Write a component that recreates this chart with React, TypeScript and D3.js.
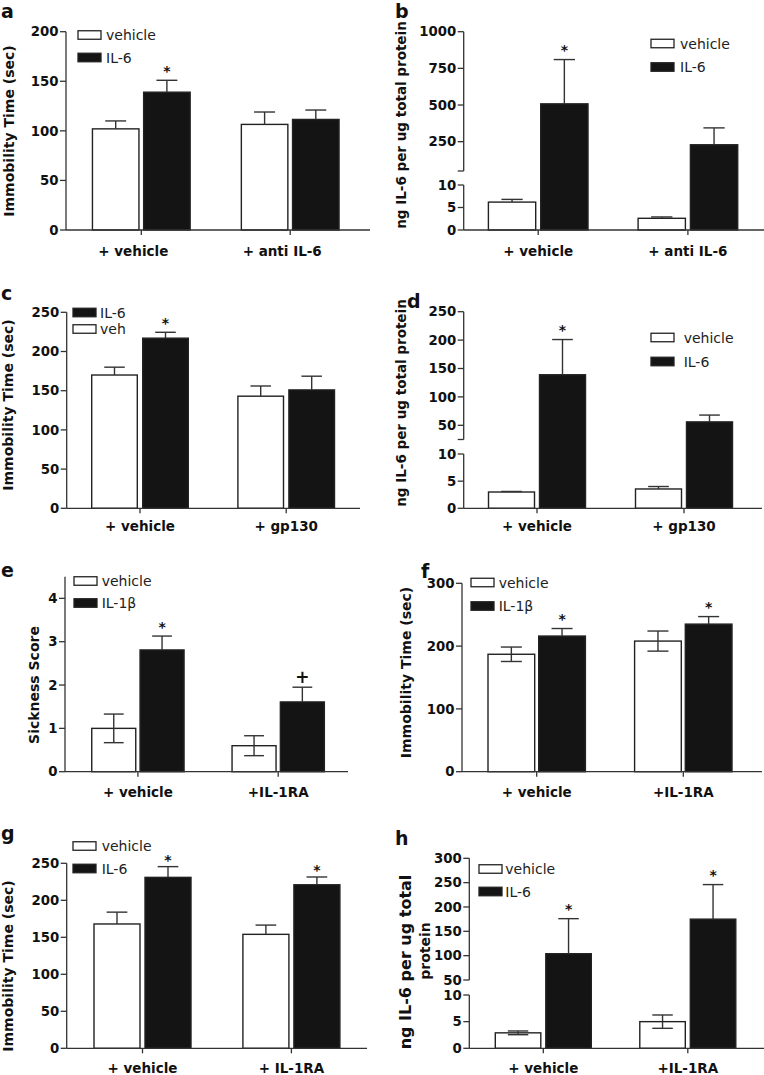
import React from "react";
import * as d3 from "d3";

// ---------- DATA ----------
// Panel a
const groupsA = ["+ vehicle", "+ anti IL-6"];
const vehA = [102, 106.5];
const vehErrA = [8, 12.5];
const il6A = [139, 111.5];
const il6ErrA = [12, 9.5];
const marksA = ["*", ""];
const ticksA = [0, 50, 100, 150, 200];

// Panel b
const groupsB = ["+ vehicle", "+ anti IL-6"];
const vehB = [6.2, 2.6];
const vehErrB = [0.6, 0.3];
const il6B = [508, 229];
const il6ErrB = [302, 115];
const marksB = ["*", ""];
const ticksBLow = [0, 5, 10];
const ticksBHigh = [250, 500, 750, 1000];

// Panel c
const groupsC = ["+ vehicle", "+ gp130"];
const vehC = [170, 143];
const vehErrC = [10, 13];
const il6C = [217, 151];
const il6ErrC = [7.5, 17.5];
const marksC = ["*", ""];
const ticksC = [0, 50, 100, 150, 200, 250];

// Panel d
const groupsD = ["+ vehicle", "+ gp130"];
const vehD = [3.0, 3.56];
const vehErrD = [0.1, 0.45];
const il6D = [139, 56];
const il6ErrD = [62, 12];
const marksD = ["*", ""];
const ticksDLow = [0, 5, 10];
const ticksDHigh = [50, 100, 150, 200, 250];

// Panel e
const groupsE = ["+ vehicle", "+IL-1RA"];
const vehE = [1.0, 0.6];
const vehErrE = [0.33, 0.23];
const il1bE = [2.81, 1.61];
const il1bErrE = [0.32, 0.34];
const marksE = ["*", "+"];
const ticksE = [0, 1, 2, 3, 4];

// Panel f
const groupsF = ["+ vehicle", "+IL-1RA"];
const vehF = [187, 208];
const vehErrF = [11.5, 16];
const il1bF = [216, 235];
const il1bErrF = [12, 12];
const marksF = ["*", "*"];
const ticksF = [0, 100, 200, 300];

// Panel g
const groupsG = ["+ vehicle", "+ IL-1RA"];
const vehG = [168, 154];
const vehErrG = [16, 12.5];
const il6G = [231, 221];
const il6ErrG = [14.5, 10.5];
const marksG = ["*", "*"];
const ticksG = [0, 50, 100, 150, 200, 250];

// Panel h
const groupsH = ["+ vehicle", "+IL-1RA"];
const vehH = [2.9, 5.0];
const vehErrH = [0.35, 1.25];
const il6H = [104, 175];
const il6ErrH = [72, 71];
const marksH = ["*", "*"];
const ticksHLow = [0, 5, 10];
const ticksHHigh = [50, 100, 150, 200, 250, 300];

const legendIL6 = ["vehicle", "IL-6"];
const legendC = ["IL-6", "veh"];
const legendIL1 = ["vehicle", "IL-1\u03b2"];

// ---------- STYLE / LAYOUT ----------
const FONT = "'DejaVu Sans', Verdana, sans-serif";
const AX = "#333";
const BLACK = "#141414";

type Layout = any;

const panels: Layout[] = [
  {
    letter: "a", letterX: 1, letterY: 18,
    groups: groupsA, veh: vehA, vehErr: vehErrA, trt: il6A, trtErr: il6ErrA, marks: marksA,
    axisX: 66, xEnd: 370, centers: [141.3, 290.2], barW: 46.5, gap: 4.7, labelDx: -8, labelY: 256,
    yLow: { domain: [0, 200], range: [230, 31.7] }, ticksLow: ticksA,
    legend: legendIL6, legendFills: ["#fff", BLACK], legX: 78, legY: [35, 57.5], legTextX: 106,
    title: [{ text: "Immobility Time (sec)", x: 14, y: 131, size: 14 }],
  },
  {
    letter: "b", letterX: 395, letterY: 18,
    groups: groupsB, veh: vehB, vehErr: vehErrB, trt: il6B, trtErr: il6ErrB, marks: marksB,
    axisX: 463.7, xEnd: 764, centers: [538.2, 687.9], barW: 47.3, gap: 5, labelDx: 0, labelY: 256,
    yLow: { domain: [0, 10], range: [230, 185] }, ticksLow: ticksBLow,
    yHigh: { domain: [50, 1000], range: [171, 31.7] }, ticksHigh: ticksBHigh,
    legend: legendIL6, legendFills: ["#fff", BLACK], legX: 651, legY: [43.5, 67], legTextX: 680,
    title: [{ text: "ng IL-6 per ug total protein", x: 406, y: 125, size: 13.5 }],
  },
  {
    letter: "c", letterX: 1, letterY: 300,
    groups: groupsC, veh: vehC, vehErr: vehErrC, trt: il6C, trtErr: il6ErrC, marks: marksC,
    axisX: 66.7, xEnd: 360, centers: [140, 286.2], barW: 45.6, gap: 5.4, labelDx: 0, labelY: 531,
    yLow: { domain: [0, 250], range: [508.3, 312.3] }, ticksLow: ticksC,
    legend: legendC, legendFills: [BLACK, "#fff"], legX: 73, legY: [312.5, 329], legTextX: 100,
    title: [{ text: "Immobility Time (sec)", x: 13, y: 405, size: 14 }],
  },
  {
    letter: "d", letterX: 407, letterY: 308,
    groups: groupsD, veh: vehD, vehErr: vehErrD, trt: il6D, trtErr: il6ErrD, marks: marksD,
    axisX: 463.7, xEnd: 762, centers: [537, 684], barW: 46, gap: 5, labelDx: 0, labelY: 531,
    yLow: { domain: [0, 10], range: [508.3, 454] }, ticksLow: ticksDLow,
    yHigh: { domain: [25, 250], range: [439.5, 311.7] }, ticksHigh: ticksDHigh,
    legend: legendIL6, legendFills: ["#fff", BLACK], legX: 651, legY: [337.5, 361.5], legTextX: 683.7,
    title: [{ text: "ng IL-6 per ug total protein", x: 406, y: 403, size: 13.5 }],
  },
  {
    letter: "e", letterX: 1, letterY: 577,
    groups: groupsE, veh: vehE, vehErr: vehErrE, trt: il1bE, trtErr: il1bErrE, marks: marksE,
    twoSided: true,
    axisX: 65, xEnd: 348, centers: [137.9, 278.2], barW: 44, gap: 4.3, labelDx: 0, labelY: 796.7,
    yLow: { domain: [0, 4.5], range: [771.7, 576.7] }, ticksLow: ticksE,
    legend: legendIL1, legendFills: ["#fff", BLACK], legX: 74, legY: [581, 603], legTextX: 101.7,
    title: [{ text: "Sickness Score", x: 39, y: 685, size: 14 }],
  },
  {
    letter: "f", letterX: 421, letterY: 578,
    groups: groupsF, veh: vehF, vehErr: vehErrF, trt: il1bF, trtErr: il1bErrF, marks: marksF,
    twoSided: true,
    axisX: 462, xEnd: 762, centers: [536.7, 683.3], barW: 46.7, gap: 4, labelDx: 0, labelY: 796.7,
    yLow: { domain: [0, 300], range: [771.7, 583.3] }, ticksLow: ticksF,
    legend: legendIL1, legendFills: ["#fff", BLACK], legX: 471, legY: [582.5, 606], legTextX: 498.7,
    title: [{ text: "Immobility Time (sec)", x: 411, y: 672.5, size: 14 }],
  },
  {
    letter: "g", letterX: 1, letterY: 840,
    groups: groupsG, veh: vehG, vehErr: vehErrG, trt: il6G, trtErr: il6ErrG, marks: marksG,
    markGap: 2,
    axisX: 66.7, xEnd: 367, centers: [142.5, 291.4], barW: 46, gap: 5, labelDx: 0, labelY: 1073,
    yLow: { domain: [0, 250], range: [1048.3, 863.3] }, ticksLow: ticksG,
    legend: legendIL6, legendFills: ["#fff", BLACK], legX: 73, legY: [846, 868.5], legTextX: 101.7,
    title: [{ text: "Immobility Time (sec)", x: 12.5, y: 966, size: 14 }],
  },
  {
    letter: "h", letterX: 395, letterY: 845,
    groups: groupsH, veh: vehH, vehErr: vehErrH, trt: il6H, trtErr: il6ErrH, marks: marksH,
    twoSided: true,
    axisX: 469.3, xEnd: 764, centers: [543.3, 687.8], barW: 45.5, gap: 5, labelDx: 0, labelY: 1073,
    yLow: { domain: [0, 10], range: [1048.3, 995] }, ticksLow: ticksHLow,
    yHigh: { domain: [50, 300], range: [980, 858.3] }, ticksHigh: ticksHHigh,
    legend: legendIL6, legendFills: ["#fff", BLACK], legX: 479, legY: [869, 891.5], legTextX: 505.3,
    title: [
      { text: "ng IL-6 per ug total", x: 410.5, y: 962, size: 16 },
      { text: "protein", x: 429.5, y: 951, size: 14 },
    ],
  },
];

function Panel({ p }: { p: Layout }) {
  const yLow = d3.scaleLinear().domain(p.yLow.domain).range(p.yLow.range);
  const yHigh = p.yHigh ? d3.scaleLinear().domain(p.yHigh.domain).range(p.yHigh.range) : null;
  const lowMax = p.yLow.domain[1];
  const y = (v: number) => (yHigh && v > lowMax ? yHigh(v) : yLow(v));

  const xg = d3.scalePoint<string>().domain(p.groups).range(p.centers);
  const xs = d3
    .scaleBand<string>()
    .domain(["veh", "trt"])
    .range([-p.barW - p.gap / 2, p.barW + p.gap / 2])
    .paddingInner(p.gap / (p.barW + p.gap));
  const bw = xs.bandwidth();

  const series = [
    { key: "veh", values: p.veh, errs: p.vehErr, fill: "#fff", marks: null },
    { key: "trt", values: p.trt, errs: p.trtErr, fill: BLACK, marks: p.marks },
  ];

  const baseY = yLow(0);
  const tickLen = 6;
  const capW = bw * 0.45;

  const axisSegs: { y1: number; y2: number }[] = [];
  const yTicks: { v: number; yy: number; label: boolean }[] = [];
  p.ticksLow.forEach((v: number) => yTicks.push({ v, yy: yLow(v), label: true }));
  axisSegs.push({ y1: yLow(0), y2: yLow(lowMax) });
  if (yHigh) {
    const [hMin, hMax] = p.yHigh.domain;
    axisSegs.push({ y1: yHigh(hMin), y2: yHigh(hMax) });
    if (!p.ticksHigh.includes(hMin)) yTicks.push({ v: hMin, yy: yHigh(hMin), label: false });
    p.ticksHigh.forEach((v: number) => yTicks.push({ v, yy: yHigh(v), label: true }));
  }

  return (
    <g>
      <text x={p.letterX} y={p.letterY} fontFamily={FONT} fontWeight="bold" fontSize={19} fill="#111">
        {p.letter}
      </text>

      {/* bars */}
      {series.map((s) =>
        p.groups.map((g: string, i: number) => {
          const x0 = (xg(g) as number) + (xs(s.key) as number);
          const v = s.values[i];
          const e = s.errs[i];
          const cx = x0 + bw / 2;
          const yTop = y(v);
          const yErr = y(v + e);
          const yErrLow = y(Math.max(0, v - e));
          const mark = s.marks ? s.marks[i] : "";
          const errColor = "#333";
          return (
            <g key={s.key + i}>
              <rect
                x={x0}
                y={yTop}
                width={bw}
                height={baseY - yTop}
                fill={s.fill}
                stroke="#222"
                strokeWidth={1.4}
              />
              <line x1={cx} x2={cx} y1={yTop} y2={yErr} stroke={errColor} strokeWidth={1.4} />
              <line x1={cx - capW / 2} x2={cx + capW / 2} y1={yErr} y2={yErr} stroke={errColor} strokeWidth={1.4} />
              {p.twoSided && s.key === "veh" && (
                <>
                  <line x1={cx} x2={cx} y1={yTop} y2={yErrLow} stroke={errColor} strokeWidth={1.4} />
                  <line
                    x1={cx - capW / 2}
                    x2={cx + capW / 2}
                    y1={yErrLow}
                    y2={yErrLow}
                    stroke={errColor}
                    strokeWidth={1.4}
                  />
                </>
              )}
              {mark && (
                <text
                  x={cx}
                  y={yErr - (p.markGap ?? 4.5)}
                  textAnchor="middle"
                  fontFamily={FONT}
                  fontWeight="bold"
                  fontSize={mark === "+" ? 17 : 14}
                  fill="#111"
                >
                  {mark}
                </text>
              )}
            </g>
          );
        })
      )}

      {/* y axis */}
      {axisSegs.map((s, i) => (
        <line key={"seg" + i} x1={p.axisX} x2={p.axisX} y1={s.y1} y2={s.y2} stroke={AX} strokeWidth={1.3} />
      ))}
      {yTicks.map((t, i) => (
        <g key={"yt" + i}>
          <line x1={p.axisX - tickLen} x2={p.axisX} y1={t.yy} y2={t.yy} stroke={AX} strokeWidth={1.3} />
          {t.label && (
            <text
              x={p.axisX - tickLen - 1.5}
              y={t.yy}
              dy="0.36em"
              textAnchor="end"
              fontFamily={FONT}
              fontWeight="bold"
              fontSize={13.3}
              fill="#111"
            >
              {t.v}
            </text>
          )}
        </g>
      ))}

      {/* x axis */}
      <line x1={p.axisX} x2={p.xEnd} y1={baseY} y2={baseY} stroke={AX} strokeWidth={1.3} />
      {p.groups.map((g: string) => (
        <g key={"xt" + g}>
          <line x1={xg(g)} x2={xg(g)} y1={baseY} y2={baseY + 5} stroke={AX} strokeWidth={1.3} />
          <text
            x={(xg(g) as number) + p.labelDx}
            y={p.labelY}
            textAnchor="middle"
            fontFamily={FONT}
            fontWeight="bold"
            fontSize={13.5}
            fill="#111"
          >
            {g}
          </text>
        </g>
      ))}

      {/* y title */}
      {p.title.map((t: any, i: number) => (
        <text
          key={"ti" + i}
          transform={`translate(${t.x},${t.y}) rotate(-90)`}
          textAnchor="middle"
          fontFamily={FONT}
          fontWeight="bold"
          fontSize={t.size}
          fill="#111"
        >
          {t.text}
        </text>
      ))}

      {/* legend */}
      {p.legend.map((lab: string, i: number) => (
        <g key={"lg" + i}>
          <rect
            x={p.legX}
            y={p.legY[i] - 4.25}
            width={23}
            height={8.5}
            fill={p.legendFills[i]}
            stroke="#222"
            strokeWidth={1.3}
          />
          <text x={p.legTextX} y={p.legY[i]} dy="0.36em" fontFamily={FONT} fontSize={14} fill="#222">
            {lab}
          </text>
        </g>
      ))}
    </g>
  );
}

export default function App() {
  return (
    <svg
      width={764}
      height={1075}
      viewBox="0 0 764 1075"
      style={{ position: "absolute", left: 0, top: 0, display: "block", background: "#fff" }}
    >
      <rect x={0} y={0} width={764} height={1075} fill="#fff" />
      {panels.map((p) => (
        <Panel key={p.letter} p={p} />
      ))}
    </svg>
  );
}
